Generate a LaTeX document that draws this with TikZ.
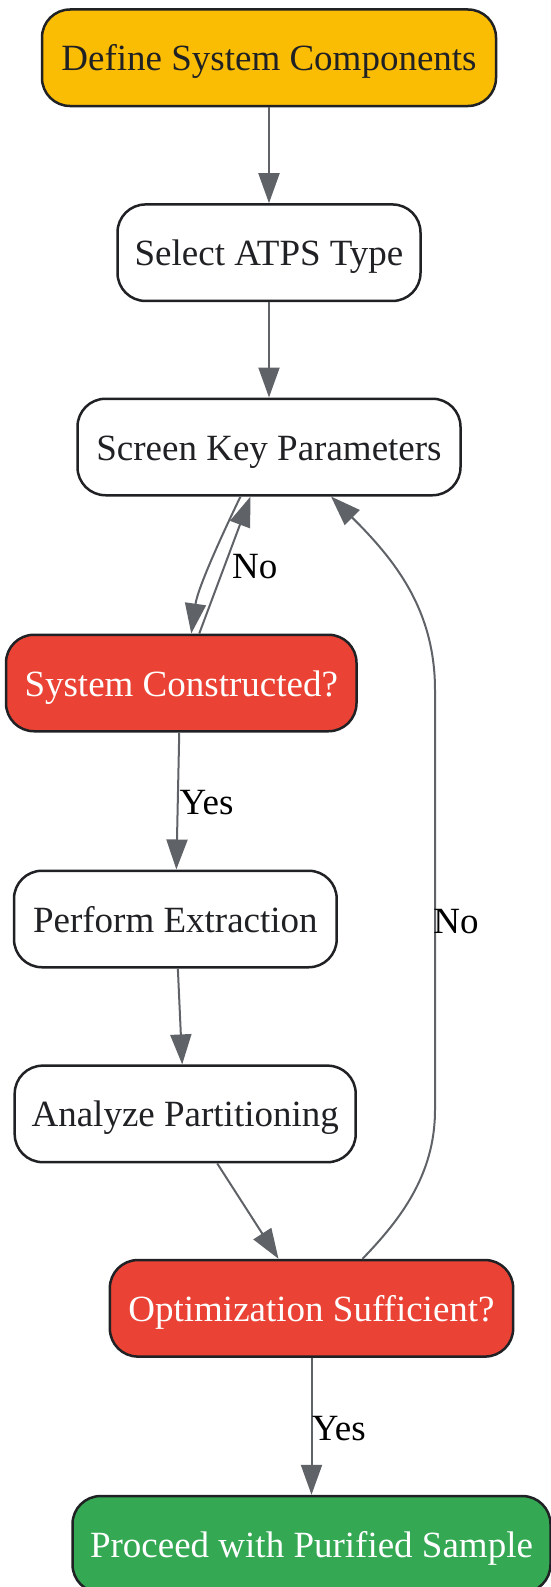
\documentclass[tikz,border=0pt]{standalone}
\usepackage{fontspec}
\setmainfont{Liberation Serif}
\usetikzlibrary{arrows.meta}
\definecolor{gyellow}{HTML}{FBBC04}
\definecolor{gred}{HTML}{EA4335}
\definecolor{ggreen}{HTML}{34A853}
\definecolor{edgegray}{HTML}{5F6368}
\definecolor{darktext}{HTML}{202124}
\tikzset{
  box/.style={draw=darktext, line width=2.5pt, rounded corners=28pt, inner sep=0pt,
    minimum height=96.5pt, text height=26pt, text depth=0pt, text=darktext, fill=white,
    font=\fontsize{37}{44}\selectfont},
  yellowbox/.style={box, fill=gyellow},
  redbox/.style={box, fill=gred, text=white},
  greenbox/.style={box, fill=ggreen, text=white},
  conn/.style={draw=edgegray, line width=2pt, -{Triangle[length=30pt,width=21pt]}, edgegray},
  elabel/.style={font=\fontsize{37}{44}\selectfont, text=black, inner sep=0pt}
}
\begin{document}
\begin{tikzpicture}[x=1pt,y=-1pt]
\useasboundingbox (0,0) rectangle (551,1587);
\node[yellowbox, minimum width=454pt] (define) at (269,57.75) {Define System Components};
\node[box, minimum width=303pt] (select) at (269,252.7) {Select ATPS Type};
\node[box, minimum width=383pt] (screen) at (269,447) {Screen Key Parameters};
\node[redbox, minimum width=350.5pt] (sysc) at (181.25,683) {System Constructed?};
\node[box, minimum width=322.7pt] (perform) at (175.35,919) {Perform Extraction};
\node[box, minimum width=341pt] (analyze) at (185.2,1113.9) {Analyze Partitioning};
\node[redbox, minimum width=403.3pt] (opt) at (311.5,1308.3) {Optimization Sufficient?};
\node[greenbox, minimum width=478pt] (proceed) at (311.5,1544.3) {Proceed with Purified Sample};

\draw[conn] (define.south) -- (select.north);
\draw[conn] (select.south) -- (screen.north);
\draw[conn] ([xshift=-28.5pt]screen.south) .. controls ([xshift=-43pt,yshift=-30pt]screen.south) and ([xshift=-71pt,yshift=-90pt]screen.south) .. ([xshift=10pt]sysc.north);
\draw[conn] ([xshift=18pt]sysc.north) -- ([xshift=-18.5pt]screen.south);
\draw[conn] ([xshift=-2pt]sysc.south) -- ([xshift=1pt]perform.north);
\draw[conn] ([xshift=2.5pt]perform.south) -- ([xshift=-3pt]analyze.north);
\draw[conn] ([xshift=32pt]analyze.south) -- ([xshift=-33pt]opt.north);
\draw[conn] ([xshift=51pt]opt.north) .. controls (400,1220) and (435,1175) .. (435,1110)
  -- (435,690) .. controls (435,610) and (395,560) .. ([xshift=62pt]screen.south);
\draw[conn] (opt.south) -- (proceed.north);

\node[elabel] (lno1) at (254.7,567) {No};
\node[elabel] (lyes1) at (206.6,803) {Yes};
\node[elabel] (lno2) at (456,922) {No};
\node[elabel] (lyes2) at (338.8,1429) {Yes};
\end{tikzpicture}
\end{document}
